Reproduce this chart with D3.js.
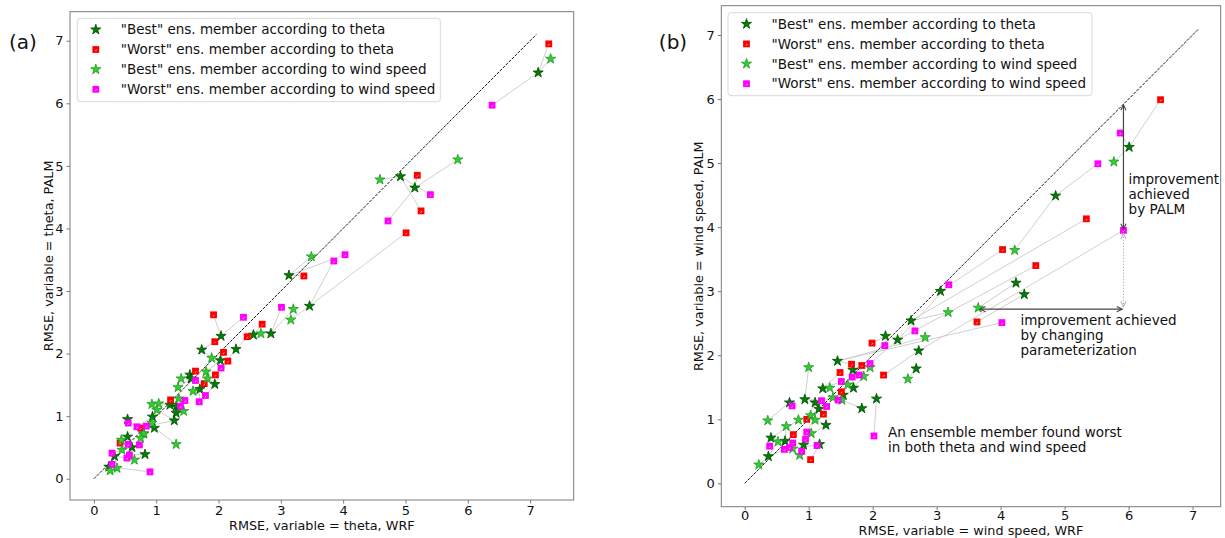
<!DOCTYPE html>
<html>
<head>
<meta charset="utf-8">
<script src="https://cdn.jsdelivr.net/npm/d3@7"></script>
<style>
  body { margin: 0; background: #fff; }
  svg { display: block; font-family: "DejaVu Sans", sans-serif; }
</style>
</head>
<body>
<svg id="chart" width="1225" height="538"></svg>
<script>
// each point: [WRF rmse, PALM rmse, case id]  (points of one case are linked by grey lines)

// ---- panel (a): variable = theta
var bestThetaA = [
  [7.13,6.49,0],[4.92,4.83,1],[5.15,4.65,2],[3.13,3.25,3],[3.46,2.76,4],[2.04,2.28,5],
  [2.56,2.30,6],[2.84,2.32,7],[1.73,2.06,8],[2.28,2.07,9],[2.03,1.89,10],[1.54,1.66,11],
  [1.56,1.60,12],[1.94,1.51,13],[1.70,1.43,14],[1.22,1.18,15],[1.32,1.15,16],[1.32,1.05,17],
  [0.94,0.99,18],[1.29,0.93,19],[0.97,0.81,20],[0.54,0.95,21],[0.80,0.72,22],[0.54,0.67,23],
  [0.61,0.50,24],[0.82,0.39,25],[0.33,0.36,26],[0.24,0.19,27]
];
var worstThetaA = [
  [7.30,6.95,0],[5.19,4.85,2],[5.25,4.28,1],[5.01,3.93,4],[3.37,3.24,3],[1.92,2.62,5],
  [2.70,2.47,6],[2.46,2.27,9],[1.94,2.19,8],[2.08,2.02,10],[2.15,1.88,13],[1.63,1.72,11],
  [1.95,1.66,14],[1.77,1.52,12],[1.23,1.26,15],[0.75,0.81,22],[0.42,0.57,23]
];
var bestWindA = [
  [7.33,6.71,0],[5.84,5.10,2],[4.59,4.78,1],[3.49,3.55,3],[3.20,2.71,7],[3.16,2.54,4],
  [2.68,2.32,6],[1.89,1.93,8],[1.80,1.71,10],[1.40,1.60,11],[1.82,1.60,13],[1.35,1.46,12],
  [1.59,1.40,14],[1.36,1.28,16],[0.93,1.19,18],[1.04,1.20,15],[1.44,1.08,17],[1.01,1.10,19],
  [0.93,0.89,20],[1.32,0.55,20],[0.80,0.72,21],[0.75,0.65,22],[0.44,0.62,23],[0.45,0.46,24],
  [0.65,0.30,25],[0.26,0.13,27],[0.37,0.17,26]
];
var worstWindA = [
  [6.39,5.97,0],[5.40,4.54,1],[4.72,4.12,2],[4.03,3.58,3],[3.85,3.48,4],[3.01,2.74,7],
  [2.40,2.58,5],[2.04,1.77,9],[1.63,1.57,11],[1.79,1.33,13],[1.69,1.23,14],[1.46,1.25,16],
  [1.39,1.16,17],[0.55,0.89,21],[0.69,0.83,18],[0.84,0.84,19],[0.73,0.54,22],[0.55,0.55,23],
  [0.29,0.41,24],[0.57,0.38,25],[0.53,0.33,26],[0.29,0.23,27],[0.90,0.11,27]
];

// ---- panel (b): variable = wind speed
var bestThetaB = [
  [6.01,5.25,0],[4.86,4.49,1],[3.06,3.00,2],[4.24,3.13,3],[4.37,2.95,4],[2.60,2.54,5],
  [2.20,2.30,6],[2.39,2.24,7],[2.72,2.07,8],[1.45,1.91,9],[1.69,1.77,10],[2.68,1.79,11],
  [1.22,1.48,12],[1.70,1.49,13],[1.54,1.38,14],[0.70,1.26,15],[0.94,1.31,16],[1.10,1.26,17],
  [1.83,1.17,18],[2.06,1.32,19],[1.16,1.16,20],[1.27,0.91,21],[0.41,0.71,22],[0.63,0.66,23],
  [0.92,0.60,24],[1.17,0.61,25],[0.37,0.42,26]
];
var worstThetaB = [
  [6.50,5.99,0],[5.34,4.13,5],[4.03,3.65,2],[4.55,3.40,7],[3.63,2.52,4],[1.99,2.19,6],
  [1.67,1.86,9],[1.83,1.84,10],[2.17,1.69,8],[1.49,1.73,12],[1.51,1.43,14],[1.23,1.08,20],
  [0.97,1.00,17],[0.76,0.76,23],[1.03,0.37,25]
];
var bestWindB = [
  [5.77,5.02,0],[4.22,3.64,1],[3.65,2.74,3],[3.18,2.67,5],[2.82,2.28,9],[1.96,1.81,10],
  [1.00,1.81,16],[1.86,1.67,13],[2.55,1.63,11],[1.61,1.54,14],[1.33,1.49,12],[1.38,1.34,17],
  [1.52,1.30,18],[1.03,1.06,20],[1.10,0.99,21],[0.84,0.99,22],[0.36,0.98,15],[0.65,0.89,23],
  [1.04,0.78,24],[0.52,0.65,26],[0.75,0.54,25],[0.86,0.44,24],[0.22,0.29,26]
];
var worstWindB = [
  [5.87,5.47,0],[5.52,4.99,1],[5.92,3.95,8],[3.19,3.10,7],[4.02,2.51,9],[2.66,2.38,5],
  [2.19,2.15,6],[1.96,1.87,7],[1.79,1.69,10],[1.68,1.66,13],[1.51,1.59,12],[0.74,1.21,15],
  [1.20,1.29,16],[1.46,1.30,14],[1.28,1.20,17],[2.02,0.74,19],[0.97,0.80,20],[0.95,0.69,21],
  [0.75,0.63,22],[0.39,0.58,22],[1.13,0.59,25],[0.62,0.53,23],[0.89,0.50,24],[0.70,0.56,26]
];

var tickValues = [0,1,2,3,4,5,6,7];
var diagonalEnd = 7.1;
var legendLabels = [
  '"Best" ens. member according to theta',
  '"Worst" ens. member according to theta',
  '"Best" ens. member according to wind speed',
  '"Worst" ens. member according to wind speed'
];

// annotations of panel (b), in data units
var notesB = [
  {x: 6.0,  y: 4.74, lines: ['improvement', 'achieved', 'by PALM']},
  {x: 4.31, y: 2.54, lines: ['improvement achieved', 'by changing', 'parameterization']},
  {x: 2.24, y: 0.80, lines: ['An ensemble member found worst', 'in both theta and wind speed']}
];
var arrowsB = [
  {x1: 5.92, y1: 5.91, x2: 5.92, y2: 3.97, dotted: false},
  {x1: 5.92, y1: 3.90, x2: 5.92, y2: 2.76, dotted: true},
  {x1: 3.68, y1: 2.72, x2: 5.90, y2: 2.72, dotted: false}
];

var styles = [
  {shape: 'star',   fill: '#008000', stroke: '#004a00'},
  {shape: 'square', fill: '#ff0000', stroke: 'none'},
  {shape: 'star',   fill: '#32cd32', stroke: '#1f9a1f'},
  {shape: 'square', fill: '#ff00ff', stroke: 'none'}
];

var svg = d3.select('#chart');
var FONT = 13.5;
var frameColor = '#7a7a7a';

function marker(sel, style) {
  if (style.shape === 'star') {
    sel.append('path')
      .attr('d', d3.symbol(d3.symbolStar).size(32)())
      .attr('fill', style.fill)
      .attr('stroke', style.stroke)
      .attr('stroke-width', 0.8);
  } else {
    sel.append('rect')
      .attr('x', -3.4).attr('y', -3.4)
      .attr('width', 6.8).attr('height', 6.8)
      .attr('fill', style.fill);
    sel.append('line')
      .attr('x1', -0.4).attr('y1', 1.6).attr('x2', 0.8).attr('y2', 0.1)
      .attr('stroke', '#fff').attr('stroke-width', 0.7);
  }
}

function drawPanel(cfg) {
  var x = d3.scaleLinear().domain(cfg.xDomain).range([cfg.left, cfg.right]);
  var y = d3.scaleLinear().domain(cfg.yDomain).range([cfg.bottom, cfg.top]);
  var g = svg.append('g');

  // grey links between members of the same case
  var all = [];
  cfg.series.forEach(function(s) { s.forEach(function(p) { all.push(p); }); });
  var cases = d3.group(all, function(p) { return p[2]; });
  cases.forEach(function(pts) {
    for (var i = 1; i < pts.length; i++) {
      g.append('line')
        .attr('x1', x(pts[0][0])).attr('y1', y(pts[0][1]))
        .attr('x2', x(pts[i][0])).attr('y2', y(pts[i][1]))
        .attr('stroke', '#d0d0d0').attr('stroke-width', 1);
    }
  });

  // 1:1 line
  g.append('line')
    .attr('x1', x(0)).attr('y1', y(0))
    .attr('x2', x(diagonalEnd)).attr('y2', y(diagonalEnd))
    .attr('stroke', '#000').attr('stroke-width', 0.9)
    .attr('stroke-dasharray', '3,1.2');

  // markers
  cfg.series.forEach(function(s, k) {
    g.selectAll(null).data(s).enter().append('g')
      .attr('transform', function(d) { return 'translate(' + x(d[0]) + ',' + y(d[1]) + ')'; })
      .each(function() { marker(d3.select(this), styles[k]); });
  });

  // annotations (only panel b)
  (cfg.arrows || []).forEach(function(a) {
    var col = a.dotted ? '#b5b5b5' : '#444';
    var x1 = x(a.x1), y1 = y(a.y1), x2 = x(a.x2), y2 = y(a.y2);
    g.append('line')
      .attr('x1', x1).attr('y1', y1).attr('x2', x2).attr('y2', y2)
      .attr('stroke', col).attr('stroke-width', a.dotted ? 1 : 1.2)
      .attr('stroke-dasharray', a.dotted ? '1.5,1.5' : null);
    var ang = Math.atan2(y2 - y1, x2 - x1);
    [[x1, y1, ang + Math.PI], [x2, y2, ang]].forEach(function(h) {
      var L = 6, w = 0.45;
      g.append('path')
        .attr('d', 'M' + (h[0] - L * Math.cos(h[2] - w)) + ',' + (h[1] - L * Math.sin(h[2] - w)) +
                   'L' + h[0] + ',' + h[1] +
                   'L' + (h[0] - L * Math.cos(h[2] + w)) + ',' + (h[1] - L * Math.sin(h[2] + w)))
        .attr('fill', 'none').attr('stroke', col).attr('stroke-width', 1.1);
    });
  });
  (cfg.notes || []).forEach(function(n) {
    var t = g.append('text')
      .attr('x', x(n.x)).attr('y', y(n.y))
      .attr('font-size', FONT).attr('fill', '#111');
    n.lines.forEach(function(l, i) {
      t.append('tspan').attr('x', x(n.x)).attr('dy', i === 0 ? '0.35em' : 15).text(l);
    });
  });

  // frame
  g.append('rect')
    .attr('x', cfg.left).attr('y', cfg.top)
    .attr('width', cfg.right - cfg.left).attr('height', cfg.bottom - cfg.top)
    .attr('fill', 'none').attr('stroke', frameColor).attr('stroke-width', 1);

  // axes
  var xAxis = d3.axisBottom(x).tickValues(tickValues).tickSize(3.5).tickPadding(cfg.xPad).tickFormat(d3.format('d'));
  var yAxis = d3.axisLeft(y).tickValues(tickValues).tickSize(3.5).tickPadding(3).tickFormat(d3.format('d'));
  var gx = g.append('g').attr('transform', 'translate(0,' + cfg.bottom + ')').call(xAxis);
  var gy = g.append('g').attr('transform', 'translate(' + cfg.left + ',0)').call(yAxis);
  [gx, gy].forEach(function(a) {
    a.select('.domain').remove();
    a.selectAll('line').attr('stroke', frameColor);
    a.selectAll('text').attr('font-size', 13).attr('font-family', 'DejaVu Sans').attr('fill', '#111');
  });

  g.append('text')
    .attr('x', (cfg.left + cfg.right) / 2).attr('y', cfg.bottom + cfg.xLabelOff)
    .attr('text-anchor', 'middle').attr('font-size', 12.8).attr('fill', '#111')
    .text(cfg.xLabel);
  g.append('text')
    .attr('transform', 'translate(' + cfg.yLabelX + ',' + ((cfg.top + cfg.bottom) / 2) + ') rotate(-90)')
    .attr('text-anchor', 'middle').attr('dy', '0.35em').attr('font-size', 12.8).attr('fill', '#111')
    .text(cfg.yLabel);

  // panel letter
  svg.append('text')
    .attr('x', cfg.letterX).attr('y', 42).attr('dy', '0.35em')
    .attr('text-anchor', 'middle').attr('font-size', 20).attr('fill', '#111')
    .text(cfg.letter);

  // legend
  var lg = g.append('g').attr('transform', 'translate(' + cfg.legend.x + ',' + cfg.legend.y + ')');
  lg.append('rect')
    .attr('width', cfg.legend.w).attr('height', cfg.legend.h)
    .attr('rx', 3).attr('fill', '#fff').attr('fill-opacity', 0.8)
    .attr('stroke', '#d9d9d9').attr('stroke-width', 1);
  legendLabels.forEach(function(lab, i) {
    var row = lg.append('g').attr('transform', 'translate(0,' + (11.3 + i * 19.9) + ')');
    marker(row.append('g').attr('transform', 'translate(18.5,0)'), styles[i]);
    row.append('text').attr('x', 43.5).attr('dy', '0.35em')
      .attr('font-size', FONT).attr('fill', '#111').text(lab);
  });
}

drawPanel({
  left: 70, right: 573.7, top: 11.7, bottom: 500,
  xDomain: [-0.384, 7.70], yDomain: [-0.34, 7.464],
  series: [bestThetaA, worstThetaA, bestWindA, worstWindA],
  xLabel: 'RMSE, variable = theta, WRF',
  yLabel: 'RMSE, variable = theta, PALM',
  xPad: 2, xLabelOff: 30,
  yLabelX: 48.5, letter: '(a)', letterX: 23,
  legend: {x: 77.3, y: 18.3, w: 363, h: 83.4}
});

drawPanel({
  left: 721.3, right: 1220.7, top: 5.7, bottom: 506.7,
  xDomain: [-0.366, 7.44], yDomain: [-0.365, 7.458],
  series: [bestThetaB, worstThetaB, bestWindB, worstWindB],
  xLabel: 'RMSE, variable = wind speed, WRF',
  yLabel: 'RMSE, variable = wind speed, PALM',
  xPad: 0.5, xLabelOff: 28.2,
  yLabelX: 699, letter: '(b)', letterX: 673,
  notes: notesB, arrows: arrowsB,
  legend: {x: 728, y: 12.7, w: 364, h: 83}
});
</script>
</body>
</html>
